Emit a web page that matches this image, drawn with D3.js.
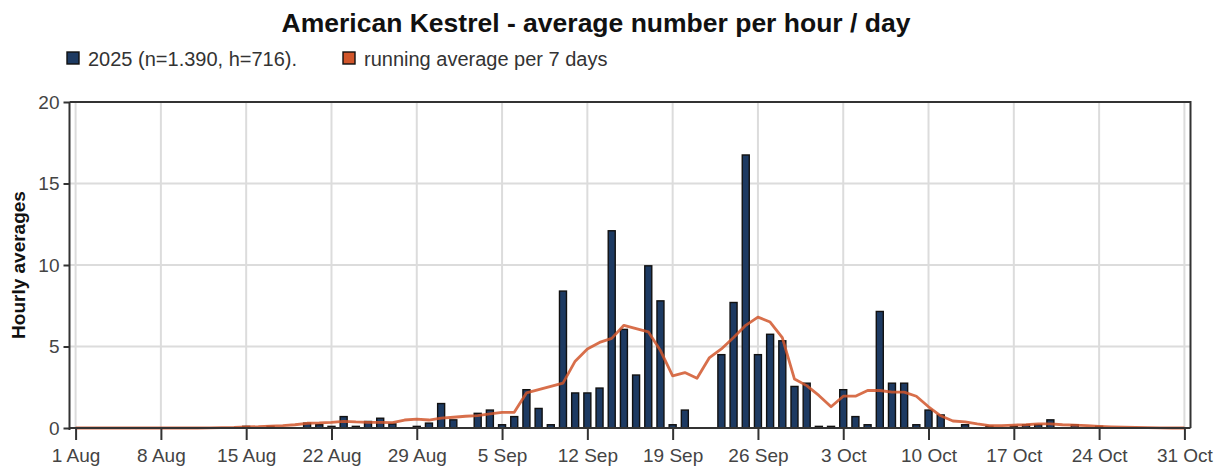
<!DOCTYPE html>
<html>
<head>
<meta charset="utf-8">
<script src="https://cdn.jsdelivr.net/npm/d3@7"></script>
<style>
  body { margin: 0; background: #fff; }
  svg { display: block; font-family: "Liberation Sans", Arial, sans-serif; }
  .grid line { stroke: #dcdcdc; stroke-width: 2; }
  .axis path, .axis line { stroke: #333; stroke-width: 2; }
  .axis text { fill: #444; font-size: 19px; }
</style>
</head>
<body>
<svg id="chart" width="1214" height="468"></svg>
<script>
// bars: days with counts (missing days have no bar)
const barDays = [
  "15 Aug", "17 Aug", "20 Aug", "21 Aug", "22 Aug", "23 Aug", "24 Aug", "25 Aug", "26 Aug", "27 Aug",
  "29 Aug", "30 Aug", "31 Aug", "1 Sep", "3 Sep", "4 Sep", "5 Sep", "6 Sep", "7 Sep", "8 Sep",
  "9 Sep", "10 Sep", "11 Sep", "12 Sep", "13 Sep", "14 Sep", "15 Sep", "16 Sep", "17 Sep", "18 Sep",
  "19 Sep", "20 Sep", "23 Sep", "24 Sep", "25 Sep", "26 Sep", "27 Sep", "28 Sep", "29 Sep", "30 Sep",
  "1 Oct", "2 Oct", "3 Oct", "4 Oct", "5 Oct", "6 Oct", "7 Oct", "8 Oct", "9 Oct", "10 Oct",
  "11 Oct", "13 Oct", "15 Oct", "17 Oct", "18 Oct", "19 Oct", "20 Oct", "22 Oct", "24 Oct"
];
const barValues = [
  0.1, 0.1, 0.3, 0.2, 0.1, 0.7, 0.1, 0.4, 0.6, 0.25,
  0.1, 0.3, 1.5, 0.5, 0.9, 1.1, 0.2, 0.7, 2.35, 1.2,
  0.2, 8.4, 2.15, 2.15, 2.45, 12.1, 6.05, 3.25, 9.95, 7.8,
  0.2, 1.1, 4.5, 7.7, 16.75, 4.5, 5.75, 5.35, 2.55, 2.75,
  0.1, 0.1, 2.35, 0.7, 0.2, 7.15, 2.75, 2.75, 0.2, 1.1,
  0.8, 0.2, 0.1, 0.1, 0.2, 0.2, 0.5, 0.2, 0.1
];

// running average, one value per day from 1 Aug to 31 Oct
const avgStart = "1 Aug";
const avgValues = [
  0, 0, 0, 0, 0, 0, 0, 0, 0, 0, 0, 0.01, 0.02, 0.03, 0.06, 0.08, 0.12, 0.15, 0.2, 0.29,
  0.31, 0.35, 0.41, 0.37, 0.35, 0.35, 0.33, 0.49, 0.55, 0.49, 0.61,          // Aug
  0.66, 0.72, 0.76, 0.86, 0.96, 0.96, 2.15, 2.35, 2.55, 2.75,
  4.1, 4.85, 5.25, 5.5, 6.3, 6.1, 5.9, 4.75, 3.2, 3.4,
  3.05, 4.3, 4.85, 5.55, 6.3, 6.8, 6.5, 5.55, 3.0, 2.6,                     // Sep
  2.0, 1.3, 1.95, 1.95, 2.3, 2.3, 2.2, 2.2, 1.95, 1.3,
  0.75, 0.43, 0.38, 0.25, 0.14, 0.14, 0.18, 0.2, 0.25, 0.25,
  0.2, 0.18, 0.14, 0.1, 0.07, 0.05, 0.03, 0.02, 0.01, 0, 0                   // Oct
];

const xTickLabels = ["1 Aug", "8 Aug", "15 Aug", "22 Aug", "29 Aug", "5 Sep", "12 Sep",
  "19 Sep", "26 Sep", "3 Oct", "10 Oct", "17 Oct", "24 Oct", "31 Oct"];
const yTicks = [0, 5, 10, 15, 20];

const title = "American Kestrel - average number per hour / day";
const seriesNames = ["2025 (n=1.390, h=716).", "running average per 7 days"];
const colors = ["#1d3a62", "#d1562b"];

const parseDay = s => d3.timeParse("%d %b %Y")(s + " 2025");

const svg = d3.select("#chart");
const plotLeft = 69.5, plotRight = 1190.5, plotTop = 102, plotBottom = 428;

const x = d3.scaleTime()
  .domain([d3.timeHour.offset(parseDay("1 Aug"), -12), d3.timeHour.offset(parseDay("31 Oct"), 12)])
  .range([plotLeft, plotRight]);
const y = d3.scaleLinear().domain([0, 20]).range([plotBottom, plotTop]);

const xTicks = xTickLabels.map(parseDay);

// grid
const grid = svg.append("g").attr("class", "grid");
grid.selectAll("line.v").data(xTicks).enter().append("line")
  .attr("x1", d => x(d)).attr("x2", d => x(d))
  .attr("y1", plotTop).attr("y2", plotBottom);
grid.selectAll("line.h").data(yTicks.slice(1, -1)).enter().append("line")
  .attr("x1", plotLeft).attr("x2", plotRight)
  .attr("y1", d => y(d)).attr("y2", d => y(d));

// bars
const bw = 7;
svg.append("g").selectAll("rect")
  .data(barDays.map((d, i) => ({date: parseDay(d), value: barValues[i]})))
  .enter().append("rect")
    .attr("x", d => x(d.date) - bw / 2)
    .attr("y", d => y(d.value))
    .attr("width", bw)
    .attr("height", d => y(0) - y(d.value))
    .style("fill", colors[0])
    .style("stroke", "#111")
    .style("stroke-width", 1.4);

// running average
const avgData = avgValues.map((v, i) => ({date: d3.timeDay.offset(parseDay(avgStart), i), value: v}));
svg.append("path")
  .datum(avgData)
  .attr("d", d3.line().x(d => x(d.date)).y(d => y(d.value)))
  .style("fill", "none")
  .style("stroke", colors[1])
  .style("stroke-width", 2.8)
  .style("stroke-opacity", 0.85)
  .style("stroke-linejoin", "round");

// frame
svg.append("path")
  .attr("d", `M${plotLeft},${plotTop}H${plotRight}V${plotBottom}`)
  .style("fill", "none").style("stroke", "#333").style("stroke-width", 2);

// axes
svg.append("g").attr("class", "axis")
  .attr("transform", `translate(0,${plotBottom})`)
  .call(d3.axisBottom(x).tickValues(xTicks).tickSize(12).tickPadding(9)
    .tickFormat((d, i) => xTickLabels[i]))
  .call(g => g.select(".domain").attr("d", `M${plotLeft},0H${plotRight}`));

svg.append("g").attr("class", "axis")
  .attr("transform", `translate(${plotLeft},0)`)
  .call(d3.axisLeft(y).tickValues(yTicks).tickSize(6).tickPadding(4))
  .call(g => g.select(".domain").attr("d", `M0,${plotTop}V${plotBottom + 2}`));

// y label
svg.append("text")
  .attr("transform", `translate(25,${(plotTop + plotBottom) / 2}) rotate(-90)`)
  .attr("text-anchor", "middle")
  .style("font-size", "19px").style("font-weight", "bold").style("fill", "#111")
  .text("Hourly averages");

// title
svg.append("text")
  .attr("x", 596).attr("y", 32)
  .attr("text-anchor", "middle")
  .style("font-size", "26.5px").style("font-weight", "bold").style("fill", "#111")
  .text(title);

// legend
const legendX = [67, 343];
const legend = svg.append("g").selectAll("g").data(seriesNames).enter().append("g")
  .attr("transform", (d, i) => `translate(${legendX[i]},52)`);
legend.append("rect")
  .attr("width", 12).attr("height", 12)
  .style("fill", (d, i) => colors[i])
  .style("stroke", "#111").style("stroke-width", 1.4);
legend.append("text")
  .attr("x", 21).attr("y", 13.5)
  .style("font-size", "20px").style("fill", "#333")
  .text(d => d);
</script>
</body>
</html>
